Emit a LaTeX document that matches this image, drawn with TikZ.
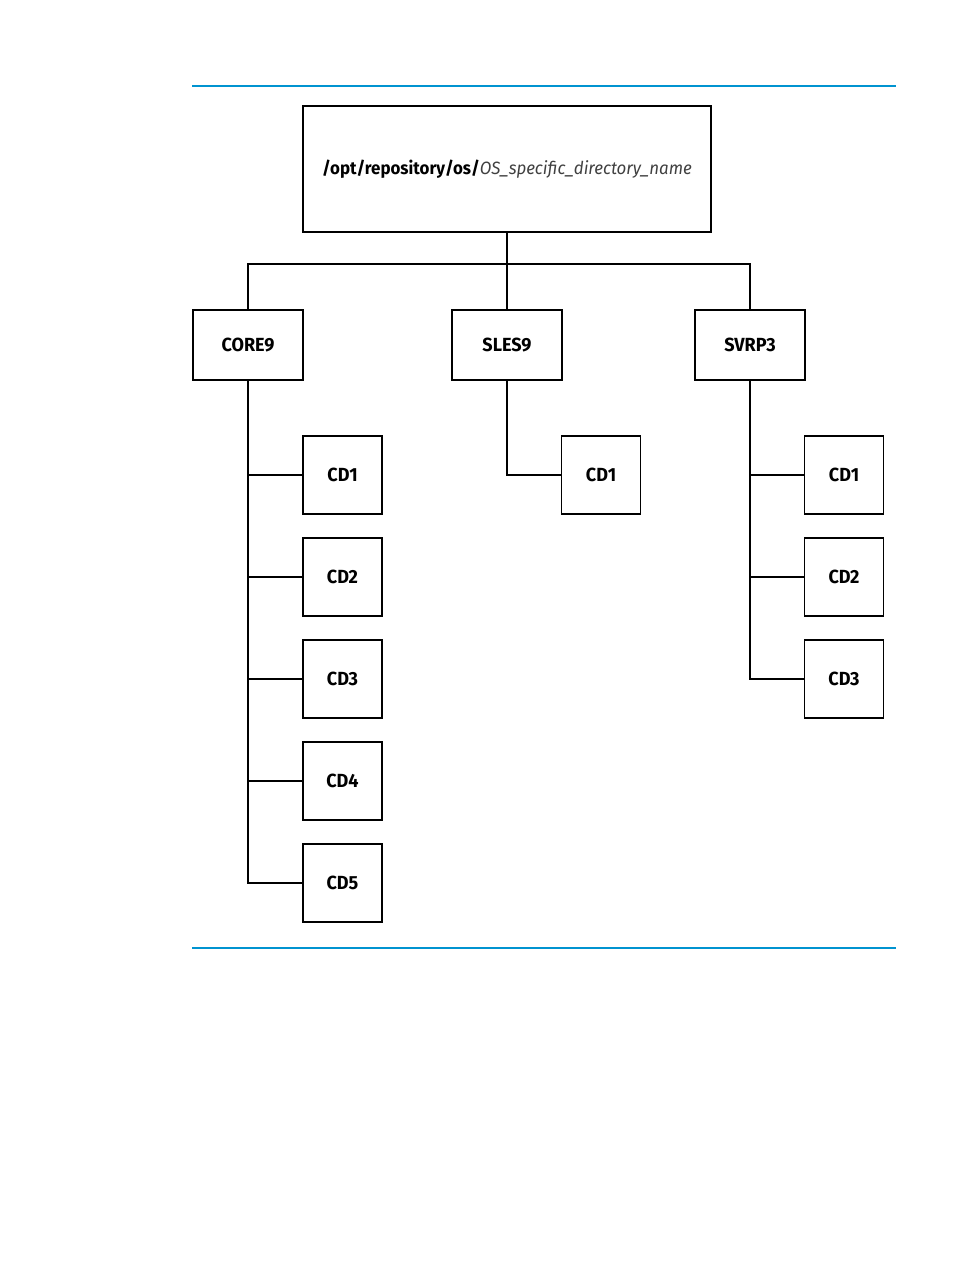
\documentclass[tikz,border=0pt]{standalone}
\usepackage{fontspec}
\setmainfont{Fira Sans}[FakeStretch=0.95]
\definecolor{rulecol}{HTML}{0093D0}
\begin{document}
\begin{tikzpicture}[x=1pt,y=-1pt,
  box/.style={draw=black,line width=1.6pt,rectangle,inner sep=0pt,font=\fontsize{19}{21}\selectfont\bfseries},
  lbox/.style={box,minimum width=110pt,minimum height=70pt},
  cdbox/.style={box,minimum width=79pt,minimum height=78pt},
  conn/.style={draw=black,line width=1.6pt}]
\useasboundingbox (0,0) rectangle (954,1270);
\draw[rulecol,line width=1.2pt] (192,86) coordinate (t1) -- (896,86) coordinate (t2);
\draw[rulecol,line width=1.2pt] (192,948) coordinate (b1) -- (896,948) coordinate (b2);
\node[box,minimum width=408pt,minimum height=126pt] (root) at (507,169)
  {\fontsize{17.8}{20}\selectfont\bfseries /opt/repository/os/\mdseries\itshape\color{black!75}OS\_specific\_directory\_name};
\node[lbox] (core) at (248,345) {CORE9};
\node[lbox] (sles) at (507,345) {SLES9};
\node[lbox] (svrp) at (750,345) {SVRP3};
\foreach \i/\y in {1/475,2/577,3/679,4/781,5/883}
  \node[cdbox] (c\i) at (342.5,\y) {CD\i};
\node[cdbox] (s1) at (601,475) {CD1};
\foreach \i/\y in {1/475,2/577,3/679}
  \node[cdbox] (v\i) at (844,\y) {CD\i};
\coordinate (j) at (507,264);
\draw[conn] (root.south) -- (j);
\draw[conn] (j) -| (core.north);
\draw[conn] (j) -| (svrp.north);
\draw[conn] (j) -- (sles.north);
\draw[conn] (core.south) |- (c5.west);
\foreach \i in {1,2,3,4} \draw[conn] (core.south |- c\i.west) -- (c\i.west);
\draw[conn] (sles.south) |- (s1.west);
\draw[conn] (svrp.south) |- (v3.west);
\foreach \i in {1,2} \draw[conn] (svrp.south |- v\i.west) -- (v\i.west);
\end{tikzpicture}
\end{document}
